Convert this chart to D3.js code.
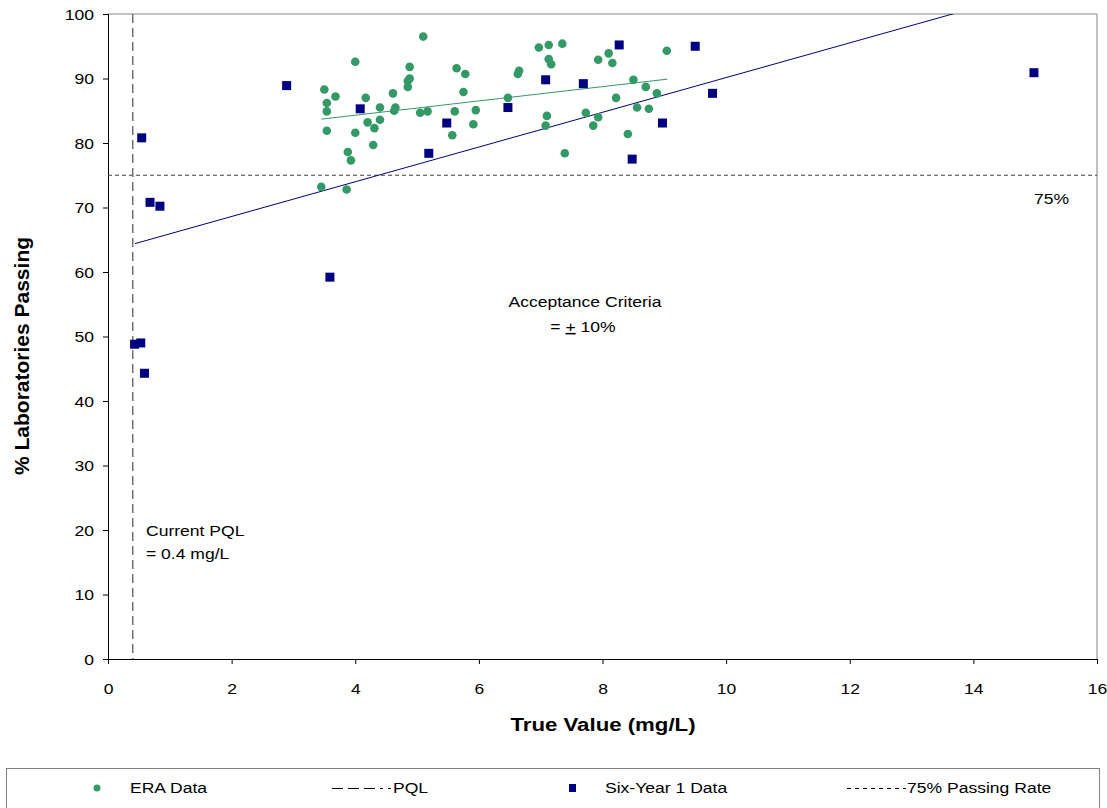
<!DOCTYPE html>
<html>
<head>
<meta charset="utf-8">
<script src="https://cdn.jsdelivr.net/npm/d3@7"></script>
<style>
  body { margin: 0; background: #fff; }
  svg { display: block; font-family: "Liberation Sans", Arial, sans-serif; }
</style>
</head>
<body>
<svg id="chart" width="1107" height="808"></svg>
<script>
// ---- data ----
const eraX = [5.10, 4.00, 4.88, 5.64, 5.78, 4.88, 4.85, 4.85, 3.50, 3.68, 4.17, 4.61, 5.75, 3.54, 3.54, 4.40, 4.65, 4.63, 5.05, 5.17, 5.61, 5.95, 4.20, 4.40, 4.31, 5.91, 3.54, 4.00, 5.57, 4.29, 3.88, 3.93, 3.45, 3.86,
              6.97, 7.13, 7.35, 7.13, 7.17, 6.65, 6.63, 7.93, 8.10, 8.16, 9.04, 6.47, 8.50, 8.70, 8.88, 8.22, 7.10, 7.08, 7.73, 7.93, 7.85, 8.56, 8.75, 8.41, 7.39];
const eraY = [96.5, 92.6, 91.8, 91.6, 90.7, 90.0, 89.6, 88.7, 88.3, 87.2, 87.0, 87.7, 87.9, 86.2, 84.9, 85.5, 85.5, 85.0, 84.7, 84.9, 84.9, 85.1, 83.2, 83.6, 82.3, 82.9, 81.9, 81.6, 81.2, 79.7, 78.6, 77.3, 73.2, 72.8,
              94.8, 95.2, 95.4, 93.0, 92.2, 91.2, 90.7, 92.9, 93.9, 92.4, 94.3, 87.0, 89.8, 88.7, 87.7, 87.0, 84.2, 82.7, 84.7, 84.0, 82.7, 85.5, 85.3, 81.4, 78.4];
const sixX = [2.89, 4.08, 5.48, 5.19, 8.27, 7.08, 7.69, 6.47, 8.97, 8.48, 9.50, 14.98, 9.78, 0.545, 0.68, 0.84, 3.59, 0.43, 0.53, 0.59];
const sixY = [88.9, 85.3, 83.1, 78.4, 95.2, 89.8, 89.2, 85.5, 83.1, 77.5, 95.0, 90.9, 87.7, 80.8, 70.8, 70.2, 59.2, 48.8, 49.0, 44.3];
const eraTrendX = [3.45, 9.05];
const eraTrendY = [83.7, 89.9];
const sixTrendX = [0.437, 15.0];
const sixTrendY = [64.4, 103.6];
const pqlValue = 0.4;
const passRate = 75;
const xTicks = [0, 2, 4, 6, 8, 10, 12, 14, 16];
const yTicks = [0, 10, 20, 30, 40, 50, 60, 70, 80, 90, 100];

// ---- layout ----
const svg = d3.select("#chart");
const L = 108, R = 1097, T = 14, B = 659;
const SX = 1.17; // horizontal glyph stretch seen in the reference
const x = d3.scaleLinear().domain([0, 16]).range([L, R]);
const y = d3.scaleLinear().domain([0, 100]).range([B, T]);

function stext(parent, px, py, str, size, anchor, weight) {
  const t = parent.append("text")
    .attr("transform", `translate(${px},${py}) scale(${SX},1)`)
    .attr("text-anchor", anchor || "start")
    .style("font-size", size + "px")
    .attr("fill", "#000");
  if (weight) t.style("font-weight", weight);
  if (str !== null) t.text(str);
  return t;
}

svg.append("defs").append("clipPath").attr("id", "plotclip")
  .append("rect").attr("x", L).attr("y", T).attr("width", R - L).attr("height", B - T);

// plot frame (top/right gray)
svg.append("line").attr("x1", L).attr("x2", R).attr("y1", T).attr("y2", T).attr("stroke", "#808080").attr("stroke-width", 1);
svg.append("line").attr("x1", R).attr("x2", R).attr("y1", T).attr("y2", B).attr("stroke", "#808080").attr("stroke-width", 1);

// axes
const xAxis = d3.axisBottom(x).tickValues(xTicks).tickSize(5).tickFormat(d3.format("d"));
const yAxis = d3.axisLeft(y).tickValues(yTicks).tickSize(5).tickFormat(d3.format("d"));
const gx = svg.append("g").attr("transform", `translate(0,${B})`).call(xAxis);
const gy = svg.append("g").attr("transform", `translate(${L},0)`).call(yAxis);
[gx, gy].forEach(g => {
  g.selectAll("path, line").attr("stroke", "#000").attr("stroke-width", 1);
  g.selectAll("text").attr("fill", "#000").style("font-size", "15px")
    .style("font-family", "'Liberation Sans', Arial, sans-serif")
    .attr("transform", `scale(${SX},1)`);
});
gx.select(".domain").attr("d", `M${L},0.5H${R}`);
gy.select(".domain").attr("d", `M0.5,${B}V${T}`);
gx.selectAll("text").attr("dy", "0").attr("y", 35);
gy.selectAll("text").attr("x", -12).attr("dy", "0.35em");

const plot = svg.append("g").attr("clip-path", "url(#plotclip)");

// 75% line
plot.append("line").attr("x1", L).attr("x2", R).attr("y1", y(passRate)).attr("y2", y(passRate))
  .attr("stroke", "#404040").attr("stroke-width", 1).attr("stroke-dasharray", "4,3");
// PQL line
plot.append("line").attr("x1", x(pqlValue)).attr("x2", x(pqlValue)).attr("y1", T).attr("y2", B)
  .attr("stroke", "#707070").attr("stroke-width", 1.5).attr("stroke-dasharray", "9,5");

// trendlines
const lineGen = d3.line().x(d => x(d[0])).y(d => y(d[1]));
plot.append("path").datum(d3.zip(sixTrendX, sixTrendY)).attr("d", lineGen)
  .attr("fill", "none").attr("stroke", "#000080").attr("stroke-width", 1);
plot.append("path").datum(d3.zip(eraTrendX, eraTrendY)).attr("d", lineGen)
  .attr("fill", "none").attr("stroke", "#339966").attr("stroke-width", 1);

// ERA points
plot.append("g").selectAll("circle").data(d3.zip(eraX, eraY)).join("circle")
  .attr("cx", d => x(d[0])).attr("cy", d => y(d[1])).attr("r", 4.3).attr("fill", "#339966");
// Six-year points
plot.append("g").selectAll("rect").data(d3.zip(sixX, sixY)).join("rect")
  .attr("x", d => x(d[0]) - 4.5).attr("y", d => y(d[1]) - 4.5).attr("width", 9).attr("height", 9).attr("fill", "#000080");

// annotations
const ann = svg.append("g");
stext(ann, 585, 307, "Acceptance Criteria", 15, "middle");
const t2 = stext(ann, 583, 332, null, 15, "middle");
t2.append("tspan").text("= ");
t2.append("tspan").style("text-decoration", "underline").text("+");
t2.append("tspan").text(" 10%");
stext(ann, 146, 536, "Current PQL", 15);
stext(ann, 146, 559, "= 0.4 mg/L", 15);
stext(ann, 1034, 204, "75%", 15);

// axis titles
stext(svg, 603, 731, "True Value (mg/L)", 19, "middle", "bold");
svg.append("text").attr("transform", "translate(29,356) rotate(-90)").attr("text-anchor", "middle")
  .style("font-size", "21px").style("font-weight", "bold").text("% Laboratories Passing");

// legend
const lg = svg.append("g");
lg.append("rect").attr("x", 6.5).attr("y", 768.5).attr("width", 1093).attr("height", 45)
  .attr("fill", "#fff").attr("stroke", "#808080").attr("stroke-width", 1);
const ly = 788;
lg.append("circle").attr("cx", 97).attr("cy", ly).attr("r", 3.5).attr("fill", "#339966");
stext(lg, 130, ly + 5, "ERA Data", 15);
lg.append("line").attr("x1", 332).attr("x2", 391).attr("y1", ly + 0.5).attr("y2", ly + 0.5)
  .attr("stroke", "#000").attr("stroke-width", 1).attr("stroke-dasharray", "11,5,11,5,11,5,3,5");
stext(lg, 393, ly + 5, "PQL", 15);
lg.append("rect").attr("x", 569).attr("y", ly - 4).attr("width", 7).attr("height", 8).attr("fill", "#000080");
stext(lg, 605, ly + 5, "Six-Year 1 Data", 15);
lg.append("line").attr("x1", 847).attr("x2", 906).attr("y1", ly + 0.5).attr("y2", ly + 0.5)
  .attr("stroke", "#000").attr("stroke-width", 1).attr("stroke-dasharray", "4,4");
stext(lg, 907, ly + 5, "75% Passing Rate", 15);
</script>
</body>
</html>
